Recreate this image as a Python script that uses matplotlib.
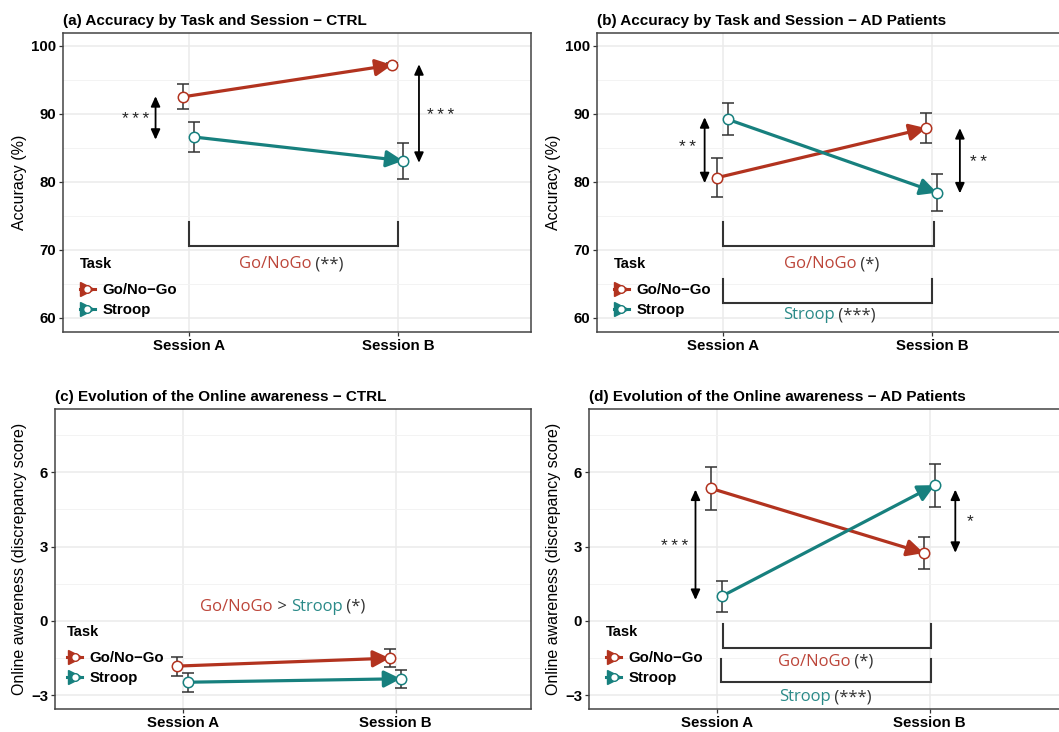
import matplotlib
matplotlib.use("Agg")
import matplotlib.pyplot as plt
from matplotlib.lines import Line2D
from matplotlib.legend_handler import HandlerTuple
from matplotlib.offsetbox import TextArea, HPacker, AnnotationBbox
from matplotlib.patches import ArrowStyle

plt.rcParams['font.family'] = ['Liberation Sans', 'DejaVu Sans']

# ---------------- data ----------------
sessions = ["Session A", "Session B"]
tasks = ["Go/No\u2212Go", "Stroop"]

acc_ctrl_gonogo = [92.5, 97.2]
acc_ctrl_gonogo_se = [1.85, 0.3]
acc_ctrl_stroop = [86.6, 83.1]
acc_ctrl_stroop_se = [2.15, 2.65]

acc_ad_gonogo = [80.6, 87.9]
acc_ad_gonogo_se = [2.9, 2.25]
acc_ad_stroop = [89.2, 78.4]
acc_ad_stroop_se = [2.35, 2.7]

aw_ctrl_gonogo = [-1.82, -1.50]
aw_ctrl_gonogo_se = [0.38, 0.37]
aw_ctrl_stroop = [-2.47, -2.33]
aw_ctrl_stroop_se = [0.38, 0.36]

aw_ad_gonogo = [5.35, 2.74]
aw_ad_gonogo_se = [0.88, 0.65]
aw_ad_stroop = [1.0, 5.48]
aw_ad_stroop_se = [0.63, 0.87]

titles = ["(a) Accuracy by Task and Session \u2212 CTRL",
          "(b) Accuracy by Task and Session \u2212 AD Patients",
          "(c) Evolution of the Online awareness \u2212 CTRL",
          "(d) Evolution of the Online awareness \u2212 AD Patients"]

# ---------------- style ----------------
RED = "#B2331F"
TEAL = "#17807E"
RED_TXT = "#BC4539"
TEAL_TXT = "#2A8A88"
DARK = "#333333"
ANN_FONT = ['Open Sans', 'DejaVu Sans']
DODGE = {"g": -0.028, "s": 0.024}

W, H = 1059, 732
fig = plt.figure(figsize=(W / 100, H / 100), dpi=100)


def rect(l, r, t, b):
    return [l / W, 1 - b / H, (r - l) / W, (b - t) / H]


axA = fig.add_axes(rect(63, 531, 33, 332))
axB = fig.add_axes(rect(597, 1065, 33, 332))
axC = fig.add_axes(rect(55, 531, 409, 709))
axD = fig.add_axes(rect(589, 1065, 409, 709))


def setup(ax, title, ylim, major, minor, ylabel):
    ax.set_xlim(0.4, 2.635)
    ax.set_ylim(*ylim)
    ax.set_xticks([1, 2])
    ax.set_xticklabels(sessions)
    ax.set_yticks(major)
    ax.set_yticks(minor, minor=True)
    ax.tick_params(axis='y', which='minor', length=0)
    ax.tick_params(which='major', length=3, width=0.9, color=DARK,
                   labelsize=10.8, pad=2)
    for lab in ax.get_xticklabels() + ax.get_yticklabels():
        lab.set_fontweight('bold')
        lab.set_color('black')
    ax.grid(which='major', color='#EBEBEB', lw=1.1, zorder=0)
    ax.grid(which='minor', axis='y', color='#F3F3F3', lw=0.7, zorder=0)
    ax.set_axisbelow(True)
    for s in ax.spines.values():
        s.set_color('#444444')
        s.set_linewidth(1.1)
    ax.set_title(title, loc='left', fontsize=11, fontweight='bold', pad=6)
    ax.set_ylabel(ylabel, fontsize=11.5, labelpad=3)


def series(ax, vals, se, color, key):
    xs = [i + 1 + DODGE[key] for i in range(len(vals))]
    ax.errorbar(xs, vals, yerr=se, fmt='none', ecolor=DARK, elinewidth=1.1,
                capsize=4.5, capthick=1.1, zorder=3)
    style = ArrowStyle('-|>', head_length=0.72, head_width=0.36)
    ax.annotate('', xy=(xs[1], vals[1]), xytext=(xs[0], vals[0]),
                arrowprops=dict(arrowstyle=style, mutation_scale=14, color=color,
                                lw=2.3, shrinkA=0, shrinkB=0), zorder=4)
    ax.plot(xs, vals, 'o', ms=7.5, mfc='white', mec=color, mew=1.1, zorder=5,
            ls='none')


def sig(ax, x, y0, y1, label, tx, ty):
    style = ArrowStyle('<|-|>', head_length=0.55, head_width=0.25)
    ax.annotate('', xy=(x, y1), xytext=(x, y0),
                arrowprops=dict(arrowstyle=style, mutation_scale=11, color='black',
                                lw=1.3, shrinkA=0, shrinkB=0), zorder=4)
    ax.text(tx, ty, "\u2009".join(label), ha='center', va='center', fontsize=12.5,
            color='#222222')


def bracket(ax, x0, x1, top, bot):
    ax.plot([x0, x0, x1, x1], [top, bot, bot, top], color=DARK, lw=1.5,
            solid_joinstyle='miter', zorder=3)


def multitext(ax, x, y, parts, size=12):
    areas = [TextArea(t, textprops=dict(color=c, fontsize=size, family=ANN_FONT))
             for t, c in parts]
    box = HPacker(children=areas, sep=0, pad=0, align='baseline')
    ab = AnnotationBbox(box, (x, y), xycoords='data', frameon=False,
                        box_alignment=(0.5, 0.5), pad=0, zorder=6)
    ax.add_artist(ab)


def legend(ax, anchor):
    hg = (Line2D([], [], color=RED, lw=2.2, marker='>', ms=10),
          Line2D([], [], ls='none', marker='o', ms=5.5, mfc='white', mec=RED, mew=1))
    hs = (Line2D([], [], color=TEAL, lw=2.2, marker='>', ms=10),
          Line2D([], [], ls='none', marker='o', ms=5.5, mfc='white', mec=TEAL, mew=1))
    leg = ax.legend([hg, hs], tasks, handler_map={tuple: HandlerTuple(ndivide=1)},
                    loc='lower left', bbox_to_anchor=anchor, frameon=False,
                    title='Task', alignment='left', handlelength=1.0,
                    handletextpad=0.5, labelspacing=0.4, borderpad=0,
                    prop=dict(size=10.8, weight='bold'),
                    title_fontproperties=dict(size=10.5, weight='bold'))
    leg._legend_box.sep = 9
    leg.set_zorder(7)


# ---------------- (a) ----------------
setup(axA, titles[0], (57.9, 101.9), [60, 70, 80, 90, 100], [65, 75, 85, 95],
      "Accuracy (%)")
series(axA, acc_ctrl_gonogo, acc_ctrl_gonogo_se, RED, "g")
series(axA, acc_ctrl_stroop, acc_ctrl_stroop_se, TEAL, "s")
sig(axA, 0.842, 92.6, 86.2, "***", 0.745, 89.1)
sig(axA, 2.10, 97.3, 82.8, "***", 2.205, 89.7)
bracket(axA, 1.0, 2.0, 74.1, 70.5)
multitext(axA, 1.49, 67.9, [("Go/NoGo", RED_TXT), (" (**)", DARK)])
legend(axA, (0.02, 0.025))

# ---------------- (b) ----------------
setup(axB, titles[1], (57.9, 101.9), [60, 70, 80, 90, 100], [65, 75, 85, 95],
      "Accuracy (%)")
series(axB, acc_ad_gonogo, acc_ad_gonogo_se, RED, "g")
series(axB, acc_ad_stroop, acc_ad_stroop_se, TEAL, "s")
sig(axB, 0.914, 89.5, 79.8, "**", 0.83, 85.0)
sig(axB, 2.133, 87.9, 78.3, "**", 2.22, 82.9)
bracket(axB, 1.0, 2.01, 74.1, 70.5)
multitext(axB, 1.52, 67.9, [("Go/NoGo", RED_TXT), (" (*)", DARK)])
bracket(axB, 1.0, 2.0, 65.7, 62.1)
multitext(axB, 1.51, 60.4, [("Stroop", TEAL_TXT), (" (***)", DARK)])
legend(axB, (0.02, 0.025))

# ---------------- (c) ----------------
setup(axC, titles[2], (-3.55, 8.55), [-3, 0, 3, 6], [-1.5, 1.5, 4.5, 7.5],
      "Online awareness (discrepancy score)")
series(axC, aw_ctrl_gonogo, aw_ctrl_gonogo_se, RED, "g")
series(axC, aw_ctrl_stroop, aw_ctrl_stroop_se, TEAL, "s")
multitext(axC, 1.47, 0.57, [("Go/NoGo", RED_TXT), (" > ", DARK),
                            ("Stroop", TEAL_TXT), (" (*)", DARK)])
legend(axC, (0.01, 0.055))

# ---------------- (d) ----------------
setup(axD, titles[3], (-3.55, 8.55), [-3, 0, 3, 6], [-1.5, 1.5, 4.5, 7.5],
      "Online awareness (discrepancy score)")
series(axD, aw_ad_gonogo, aw_ad_gonogo_se, RED, "g")
series(axD, aw_ad_stroop, aw_ad_stroop_se, TEAL, "s")
sig(axD, 0.90, 5.3, 0.85, "***", 0.80, 3.0)
sig(axD, 2.12, 5.3, 2.75, "*", 2.19, 4.0)
bracket(axD, 1.027, 2.005, -0.12, -1.1)
multitext(axD, 1.51, -1.65, [("Go/NoGo", RED_TXT), (" (*)", DARK)])
bracket(axD, 1.02, 2.005, -1.53, -2.46)
multitext(axD, 1.51, -3.08, [("Stroop", TEAL_TXT), (" (***)", DARK)])
legend(axD, (0.02, 0.055))

fig.savefig("out.png", dpi=100)
